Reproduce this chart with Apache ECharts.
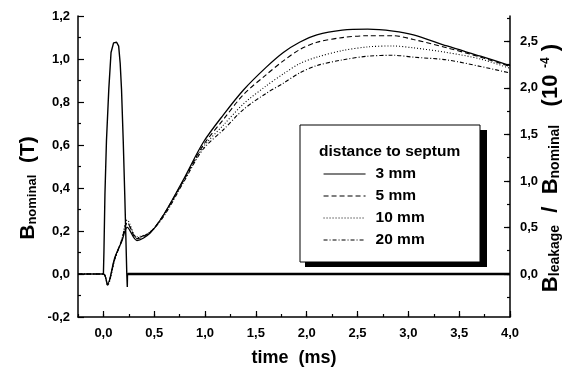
<!DOCTYPE html>
<html>
<head>
<meta charset="utf-8">
<script src="https://cdn.jsdelivr.net/npm/echarts@6/dist/echarts.min.js"></script>
<style>
  html, body { margin: 0; padding: 0; background: #fff; }
  #chart { width: 573px; height: 370px; }
</style>
</head>
<body>
<div id="chart"></div>
<script>
// B nominal pulse (left axis, T)
const pulseT = [0, 0.005, 0.015, 0.03, 0.053, 0.075, 0.1, 0.13, 0.15, 0.165, 0.178, 0.195, 0.21, 0.222, 0.23, 0.235, 0.237, 4.0];
const pulseB = [0, 0.1, 0.37, 0.62, 0.86, 1.03, 1.075, 1.078, 1.06, 0.98, 0.86, 0.62, 0.37, 0.15, 0.0, -0.06, 0, 0];

// leakage / nominal (right axis, 1e-4)
const leakT = [-0.25, 0, 0.04, 0.11, 0.18, 0.235, 0.33, 0.46, 0.6, 0.785, 0.98, 1.18, 1.38, 1.6, 1.77, 1.93, 2.1, 2.35, 2.6, 2.85, 3.05, 3.38, 3.71, 4.0];
const leak3 = [0, 0, -0.11, 0.17, 0.35, 0.50, 0.36, 0.44, 0.65, 1.01, 1.41, 1.71, 1.98, 2.22, 2.38, 2.49, 2.57, 2.62, 2.63, 2.61, 2.57, 2.45, 2.34, 2.24];
const leak5 = [0, 0, -0.11, 0.16, 0.36, 0.55, 0.38, 0.45, 0.65, 1.00, 1.38, 1.66, 1.93, 2.14, 2.29, 2.41, 2.49, 2.54, 2.56, 2.56, 2.52, 2.43, 2.33, 2.23];
const leak10 = [0, 0, -0.12, 0.15, 0.37, 0.58, 0.40, 0.45, 0.64, 0.99, 1.36, 1.60, 1.83, 2.02, 2.15, 2.26, 2.33, 2.40, 2.44, 2.45, 2.43, 2.38, 2.31, 2.21];
const leak20 = [0, 0, -0.12, 0.15, 0.36, 0.55, 0.39, 0.45, 0.63, 0.98, 1.34, 1.55, 1.77, 1.94, 2.05, 2.16, 2.24, 2.30, 2.34, 2.35, 2.33, 2.30, 2.23, 2.16];
const leakNames = ['3 mm', '5 mm', '10 mm', '20 mm'];

const xTicks = [0, 4, 0.5];
const yLeftTicks = [-0.2, 1.2, 0.2];
const yRightTicks = [0, 2.5, 0.5];

const W = 573, H = 370;
const L = 78, R = 510, T = 16, B = 317;
const xMin = -0.25, xMax = 4;
const k = 2.31; // right axis units per left axis unit

const ry = r => B - (r / k - yLeftTicks[0]) / (yLeftTicks[1] - yLeftTicks[0]) * (B - T);
const xp = t => L + (t - xMin) / (xMax - xMin) * (R - L);
const comma = v => v.toFixed(1).replace('.', ',');
const FONT = '"Liberation Sans", Arial, sans-serif';
const lbl = { color: '#000', fontFamily: FONT, fontWeight: 'bold', fontSize: 13 };
const blk = { color: '#000', width: 1.5 };
const tickStyle = { color: '#000', width: 1.2 };

const zip = (a, b) => a.map((v, i) => [v, b[i]]);
const pulseData = zip(pulseT, pulseB);
const tailData = pulseData.filter(d => d[0] >= 0.237);
const dashes = ['solid', [5, 3], [1, 2], [4, 2, 1, 2]];

const chart = echarts.init(document.getElementById('chart'));

const gridBase = { containLabel: false, outerBoundsMode: 'none' };
chart.setOption({
    animation: false,
    backgroundColor: '#fff',
    grid: [
        { ...gridBase, left: L, right: W - R, top: T, bottom: H - B },
        { ...gridBase, left: xp(0), right: W - R, top: T, bottom: H - B },
        { ...gridBase, left: L, right: W - R, top: ry(2.5), bottom: H - ry(0) },
        { ...gridBase, left: L, right: W - R, top: ry(2.75), bottom: H - ry(-0.25) },
    ],
    xAxis: [
        {
            gridIndex: 0, type: 'value', min: xMin, max: xMax, interval: 0.25,
            axisLine: { onZero: false, lineStyle: blk },
            axisTick: { inside: true, length: 3, lineStyle: tickStyle },
            axisLabel: { show: false }, splitLine: { show: false },
        },
        {
            gridIndex: 1, type: 'value', min: xTicks[0], max: xTicks[1], interval: xTicks[2],
            axisLine: { show: false, onZero: false },
            axisTick: { inside: true, length: 6, lineStyle: tickStyle },
            axisLabel: { ...lbl, margin: 10, formatter: comma },
            splitLine: { show: false },
        },
        { gridIndex: 2, type: 'value', show: false, min: 0, max: 1 },
        { gridIndex: 3, type: 'value', show: false, min: 0, max: 1 },
    ],
    yAxis: [
        {
            gridIndex: 0, type: 'value', position: 'left',
            min: yLeftTicks[0], max: yLeftTicks[1], interval: yLeftTicks[2],
            axisLine: { onZero: false, lineStyle: blk },
            axisTick: { inside: true, length: 6, lineStyle: tickStyle },
            minorTick: { show: true, splitNumber: 2, length: 3, lineStyle: tickStyle },
            axisLabel: { ...lbl, margin: 8, formatter: comma },
            splitLine: { show: false }, minorSplitLine: { show: false },
        },
        {
            gridIndex: 0, type: 'value', position: 'right',
            min: yLeftTicks[0] * k, max: yLeftTicks[1] * k,
            axisLine: { show: true, onZero: false, lineStyle: blk },
            axisTick: { show: false }, axisLabel: { show: false }, splitLine: { show: false },
        },
        { gridIndex: 1, type: 'value', show: false, min: 0, max: 1 },
        {
            gridIndex: 2, type: 'value', position: 'right',
            min: yRightTicks[0], max: yRightTicks[1], interval: yRightTicks[2],
            axisLine: { show: false, onZero: false },
            axisTick: { inside: true, length: 6, lineStyle: tickStyle },
            axisLabel: { ...lbl, margin: 10, formatter: comma },
            splitLine: { show: false },
        },
        {
            gridIndex: 3, type: 'value', position: 'right', min: -0.25, max: 2.75, interval: 0.25,
            axisLine: { show: false, onZero: false },
            axisTick: { inside: true, length: 3, lineStyle: tickStyle },
            axisLabel: { show: false }, splitLine: { show: false },
        },
    ],
    legend: {
        data: leakNames,
        orient: 'vertical',
        left: 318, top: 158,
        itemWidth: 42, itemHeight: 10, itemGap: 0,
        selectedMode: false,
        z: 20,
        itemStyle: { opacity: 0 },
        lineStyle: { width: 1.1 },
        textStyle: { color: '#000', fontFamily: FONT, fontWeight: 'bold', fontSize: 15.5, lineHeight: 22, padding: [0, 0, 0, 5] },
    },
    graphic: [
        { type: 'rect', z: 10, shape: { x: 305, y: 130, width: 182, height: 137 }, style: { fill: '#000' } },
        { type: 'rect', z: 11, shape: { x: 300, y: 125, width: 180, height: 137 }, style: { fill: '#fff', stroke: '#000', lineWidth: 1 } },
        {
            type: 'text', z: 12, x: 319, y: 152,
            style: { text: 'distance to septum', fill: '#000', font: 'bold 15.5px ' + FONT, textAlign: 'left', textVerticalAlign: 'middle' },
        },
        {
            type: 'text', z: 12, x: (L + R) / 2, y: 358,
            style: { text: 'time  (ms)', fill: '#000', font: 'bold 18px ' + FONT, textAlign: 'center', textVerticalAlign: 'middle' },
        },
        {
            type: 'text', z: 12, x: 28, y: 188, rotation: Math.PI / 2,
            style: {
                text: '{b|B}{s|nominal}{b|  (T)}',
                textAlign: 'center', textVerticalAlign: 'middle',
                rich: {
                    b: { fill: '#000', fontFamily: FONT, fontWeight: 'bold', fontSize: 21 },
                    s: { fill: '#000', fontFamily: FONT, fontWeight: 'bold', fontSize: 13, verticalAlign: 'bottom' },
                },
            },
        },
        {
            type: 'text', z: 12, x: 551, y: 168, rotation: Math.PI / 2,
            style: {
                text: '{b|B}{s|leakage}{b|  /  B}{s|nominal}{b|   (10}{p|  -4}{b| )}',
                textAlign: 'center', textVerticalAlign: 'middle',
                rich: {
                    b: { fill: '#000', fontFamily: FONT, fontWeight: 'bold', fontSize: 22 },
                    s: { fill: '#000', fontFamily: FONT, fontWeight: 'bold', fontSize: 14, verticalAlign: 'bottom' },
                    p: { fill: '#000', fontFamily: FONT, fontWeight: 'bold', fontSize: 12, verticalAlign: 'top' },
                },
            },
        },
    ],
    series: [
        ...[leak3, leak5, leak10, leak20].map((vals, i) => ({
            name: leakNames[i],
            type: 'line', xAxisIndex: 0, yAxisIndex: 1,
            data: zip(leakT, vals),
            smooth: 0.3, symbol: 'none',
            lineStyle: { color: '#000', width: i === 0 ? 1.3 : 1.1, type: dashes[i] },
            itemStyle: { color: '#000' },
        })),
        {
            name: 'pulse', type: 'line', xAxisIndex: 0, yAxisIndex: 0,
            data: pulseData, symbol: 'none',
            lineStyle: { color: '#000', width: 1.4 },
        },
        {
            name: 'pulse tail', type: 'line', xAxisIndex: 0, yAxisIndex: 0,
            data: tailData, symbol: 'none',
            lineStyle: { color: '#000', width: 2.4 },
        },
    ],
});
</script>
</body>
</html>
